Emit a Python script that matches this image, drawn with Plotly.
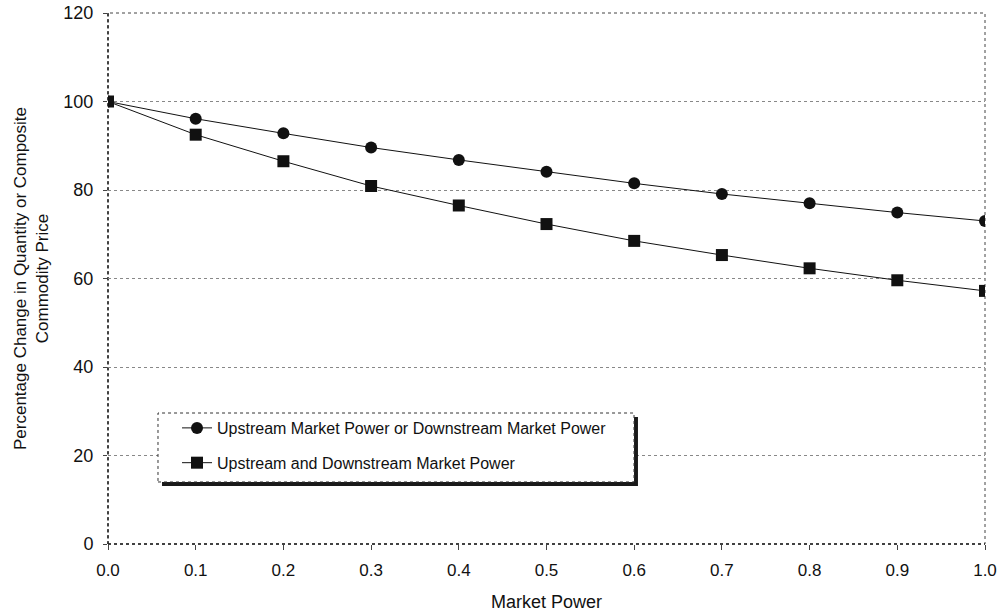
import plotly.graph_objects as go

market_power = [0.0, 0.1, 0.2, 0.3, 0.4, 0.5, 0.6, 0.7, 0.8, 0.9, 1.0]
single_power = [100, 96.1, 92.8, 89.6, 86.8, 84.1, 81.5, 79.1, 77.0, 74.9, 73.0]
both_power = [100, 92.5, 86.5, 80.9, 76.5, 72.3, 68.5, 65.3, 62.3, 59.6, 57.2]
x_ticks = [0.0, 0.1, 0.2, 0.3, 0.4, 0.5, 0.6, 0.7, 0.8, 0.9, 1.0]
x_tick_labels = ["0.0", "0.1", "0.2", "0.3", "0.4", "0.5", "0.6", "0.7", "0.8", "0.9", "1.0"]
y_ticks = [0, 20, 40, 60, 80, 100, 120]

font_family = "Liberation Sans, Arial, Helvetica, sans-serif"

fig = go.Figure()
fig.add_trace(go.Scatter(
    x=market_power, y=single_power, mode="lines+markers",
    name="Upstream Market Power or Downstream Market Power",
    legendgroup="a",
    line=dict(color="#111111", width=1),
    marker=dict(symbol="circle", size=12, color="#111111"),
))
fig.add_trace(go.Scatter(
    x=market_power, y=both_power, mode="lines+markers",
    name="Upstream and Downstream Market Power",
    legendgroup="b",
    line=dict(color="#111111", width=1),
    marker=dict(symbol="square", size=12, color="#111111"),
))

# legend shadow and box
fig.add_shape(type="rect", xref="paper", yref="paper",
              x0=0.0616, x1=0.6043, y0=0.1092, y1=0.2392,
              fillcolor="#1a1a1a", line=dict(width=0), layer="above")
fig.add_shape(type="rect", xref="paper", yref="paper",
              x0=0.057, x1=0.5998, y0=0.1168, y1=0.2467,
              fillcolor="white", line=dict(color="#333333", width=1, dash="dot"), layer="above")
# dotted frame
fig.add_shape(type="rect", xref="paper", yref="paper", x0=0, x1=1, y0=0, y1=1,
              line=dict(color="#444444", width=1, dash="dot"), layer="below")
# darker dotted axis lines (left and bottom)
fig.add_shape(type="line", xref="paper", yref="paper", x0=0, x1=0, y0=0, y1=1,
              line=dict(color="#222222", width=1.5, dash="dot"), layer="below")
fig.add_shape(type="line", xref="paper", yref="paper", x0=0, x1=1, y0=0, y1=0,
              line=dict(color="#222222", width=1.5, dash="dot"), layer="below")

fig.update_layout(
    width=1000, height=612,
    margin=dict(l=108, r=15, t=13, b=68),
    paper_bgcolor="white", plot_bgcolor="white",
    font=dict(family=font_family, size=18, color="#111111"),
    showlegend=True,
    legend=dict(
        x=0.0787, y=0.2505, xanchor="left", yanchor="top",
        bgcolor="rgba(0,0,0,0)", borderwidth=0,
        font=dict(family=font_family, size=16, color="#111111"),
        tracegroupgap=11,
    ),
    xaxis=dict(
        range=[0, 1], tickvals=x_ticks, ticktext=x_tick_labels,
        showgrid=False, zeroline=False, showline=False, automargin=False,
        ticks="outside", ticklen=5, tickcolor="#444444",
        ticklabelstandoff=6, ticklabeloverflow="allow",
        title=dict(text="Market Power", standoff=22, font=dict(size=18)),
        tickfont=dict(size=17),
    ),
    yaxis=dict(
        range=[0, 120], tickvals=y_ticks,
        showgrid=True, gridcolor="#888888", griddash="dot", gridwidth=1,
        zeroline=False, showline=False, automargin=False,
        ticks="outside", ticklen=4, tickcolor="#444444",
        ticklabelstandoff=6, ticklabeloverflow="allow",
        title=dict(text="Percentage Change in Quantity or Composite<br>Commodity Price",
                   standoff=10, font=dict(size=17)),
        tickfont=dict(size=18),
    ),
)

fig.write_html("out.html", config={"displayModeBar": False},
               post_script="document.body.style.margin='0';")
